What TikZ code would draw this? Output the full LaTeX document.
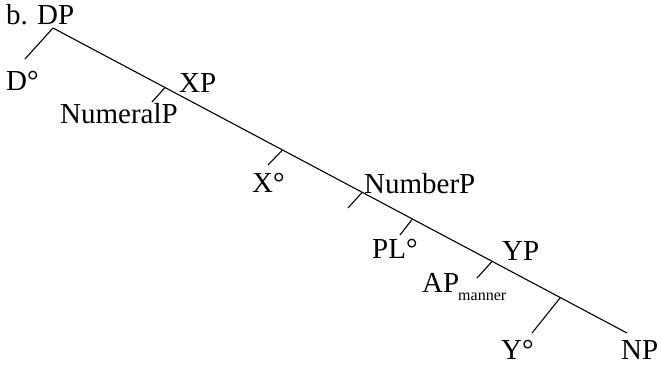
\documentclass[tikz,border=0pt]{standalone}
\usepackage{fontspec}
\setmainfont{Liberation Serif}
\begin{document}
\begin{tikzpicture}[x=1pt, y=-1pt,
                    lbl/.style={inner sep=0pt, anchor=base west, font=\fontsize{29}{29}\selectfont},
                    sub/.style={inner sep=0pt, anchor=base west, font=\fontsize{16}{16}\selectfont},
                    branch/.style={-, line width=1.1pt}]
                \useasboundingbox (0,0) rectangle (662,365);
                % labels
                \node[lbl] (ex) at (6,24) {b.};
                \node[lbl] (dp) at (37,24) {DP};
                \node[lbl] (d) at (6,90) {D°};
                \node[lbl] (xp) at (179,92) {XP};
                \node[lbl] (numeralp) at (60,123) {NumeralP};
                \node[lbl] (x) at (252,192) {X°};
                \node[lbl] (numberp) at (364,193) {NumberP};
                \node[lbl] (pl) at (372,258) {PL°};
                \node[lbl] (yp) at (502,260) {YP};
                \node[lbl] (ap) at (422,292) {AP};
                \node[sub] (manner) at (458,300) {manner};
                \node[lbl] (y) at (501,359) {Y°};
                \node[lbl] (np) at (621,359) {NP};
                % spine
                \coordinate (top) at (53,28);
                \coordinate (bot) at (627,333);
                \coordinate (jnum) at (165,87.5);
                \coordinate (jx) at (282,150.5);
                \coordinate (jnb) at (362,192.5);
                \coordinate (jpl) at (412,219.5);
                \coordinate (jap) at (492,261.5);
                \coordinate (jy) at (560,298);
                % branch ends
                \coordinate (ed) at (25,59);
                \coordinate (enum) at (152,102);
                \coordinate (ex0) at (268,165);
                \coordinate (enb) at (348,208);
                \coordinate (epl) at (400,235);
                \coordinate (eap) at (477,278);
                \coordinate (ey) at (532,333);
                \draw[branch] (top) -- (bot);
                \draw[branch] (top) -- (ed);
                \draw[branch] (jnum) -- (enum);
                \draw[branch] (jx) -- (ex0);
                \draw[branch] (jnb) -- (enb);
                \draw[branch] (jpl) -- (epl);
                \draw[branch] (jap) -- (eap);
                \draw[branch] (jy) -- (ey);
            \end{tikzpicture}
\end{document}
